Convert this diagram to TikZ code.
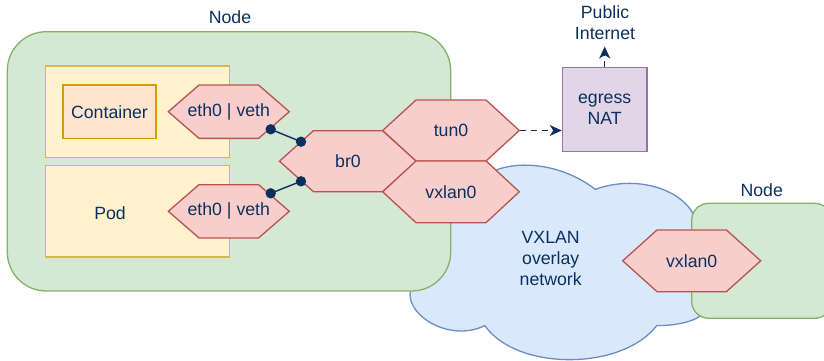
\documentclass[tikz,border=0pt]{standalone}
\usepackage{fontspec}
\setmainfont{Liberation Sans}
\usetikzlibrary{arrows.meta,calc}

\definecolor{ink}{HTML}{0B3060}
\definecolor{nodefill}{HTML}{D5E8D4}
\definecolor{nodeline}{HTML}{82B366}
\definecolor{podfill}{HTML}{FFF2CC}
\definecolor{podline}{HTML}{D6B656}
\definecolor{ctrfill}{HTML}{FFE6CC}
\definecolor{ctrline}{HTML}{D79B00}
\definecolor{iffill}{HTML}{F8CECC}
\definecolor{ifline}{HTML}{B85450}
\definecolor{natfill}{HTML}{E1D5E7}
\definecolor{natline}{HTML}{9673A6}
\definecolor{netfill}{HTML}{DAE8FC}
\definecolor{netline}{HTML}{6C8EBF}

% interface hexagon: name, cx, cy, width, height, inset, label
\newcommand\ifhex[7]{%
  \draw[hexline] ({#2-#4/2+#6},{#3-#5/2}) -- ({#2+#4/2-#6},{#3-#5/2})
    -- ({#2+#4/2},#3) -- ({#2+#4/2-#6},{#3+#5/2})
    -- ({#2-#4/2+#6},{#3+#5/2}) -- ({#2-#4/2},#3) -- cycle;
  \node[minimum width=#4pt, minimum height=#5pt] (#1) at (#2,#3) {#7};
}

\begin{document}
\begin{tikzpicture}[x=1pt, y=-1pt, line width=1.3pt,
  every node/.style={font=\fontsize{17.7}{21}\selectfont, text=ink,
    inner sep=0pt, align=center},
  hostbox/.style={draw=nodeline, fill=nodefill, rounded corners=#1},
  podbox/.style={draw=podline, fill=podfill},
  ctrbox/.style={draw=ctrline, fill=ctrfill},
  natbox/.style={draw=natline, fill=natfill},
  hexline/.style={draw=ifline, fill=iffill, line join=miter},
  link/.style={draw=ink, line width=1.4pt},
  flow/.style={draw=ink, line width=1.4pt, dash pattern=on 6pt off 5pt,
    -{Stealth[length=12pt, width=11pt, inset=3.5pt]}},
]
\useasboundingbox (0,0) rectangle (824,361);

% overlay network cloud
\begin{scope}[shift={(376,144)}]
\begin{scope}[x=351pt, y=-227pt]
  \draw[draw=netline, fill=netfill]
    (0.25,0.25) .. controls (0.05,0.25) and (0,0.5) .. (0.16,0.55)
    .. controls (0,0.66) and (0.18,0.9) .. (0.31,0.8)
    .. controls (0.4,1) and (0.7,1) .. (0.8,0.8)
    .. controls (1,0.8) and (1,0.6) .. (0.875,0.5)
    .. controls (1,0.3) and (0.8,0.1) .. (0.625,0.2)
    .. controls (0.5,0.05) and (0.3,0.05) .. cycle;
\end{scope}
\end{scope}
\node (vx) at (550.7,258) {VXLAN\\overlay\\network};

% hosts
\node[hostbox=39pt, minimum width=443.4pt, minimum height=259.3pt] (host) at (229,161.35) {};
\node (hostlbl) at (230,17) {Node};
\node[hostbox=17pt, minimum width=140pt, minimum height=115pt] (peer) at (761.7,260.8) {};
\node (peerlbl) at (761.7,190) {Node};

% pods
\node[podbox, minimum width=183.6pt, minimum height=91.3pt] (pod1) at (137.5,111.7) {};
\node[podbox, minimum width=183.6pt, minimum height=91.3pt] (pod2) at (137.5,211.35) {};
\node (podlbl) at (110,212.7) {Pod};
\node[ctrbox, minimum width=93pt, minimum height=53.6pt] (ctr) at (109.5,111.8) {Container};

% interfaces
\ifhex{eth1}{228.8}{111.7}{121}{53.3}{30.7}{eth0 | veth}
\ifhex{eth2}{228.8}{211.3}{121}{53.3}{30.7}{eth0 | veth}
\ifhex{br}{348}{161.2}{137.1}{61}{34}{br0}
\ifhex{tun}{451}{130.5}{136.6}{61}{33.3}{tun0}
\ifhex{vxa}{451}{191.8}{136.6}{61.7}{33.3}{vxlan0}
\ifhex{vxb}{691.7}{260.8}{138}{61.7}{34.3}{vxlan0}

% veth pairs to the bridge
\coordinate (p1) at (270.7,129.3);
\coordinate (q1) at (301,141.7);
\coordinate (p2) at (270.7,193.3);
\coordinate (q2) at (301,181.3);
\draw[link] (p1) -- (q1);
\draw[link] (p2) -- (q2);
\foreach \c in {p1,q1,p2,q2} \fill[ink] (\c) circle (5.2pt);

% egress path
\node[natbox, minimum width=84.7pt, minimum height=84.4pt] (nat) at (604.7,109.5) {egress\\NAT};
\draw[flow] (tun.east) -- (tun.east -| nat.west);
\coordinate (web) at (604.7,46.5);
\draw[flow] (nat.north) -- (web);
\node (pub) at (605,23) {Public\\Internet};
\end{tikzpicture}
\end{document}
